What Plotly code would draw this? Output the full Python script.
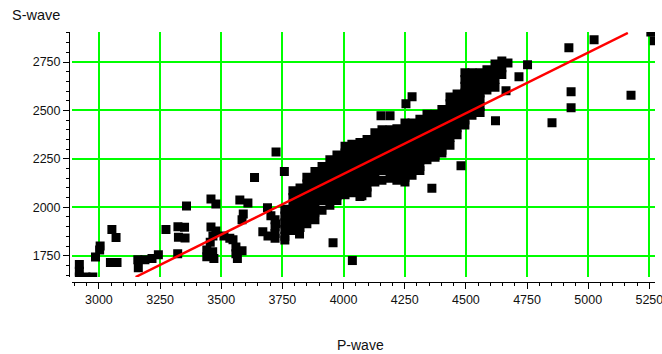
import plotly.graph_objects as go

# --- scattered samples (P-wave, S-wave) ---
outlier_p = [2920, 2920, 2920, 2947, 2975, 3005, 3003, 2986, 3053, 3070, 3047, 3074,
             3159, 3188, 3217, 3243, 3161, 3274, 3358, 3323, 3350, 3325, 3352, 3322,
             3441, 3441, 3465, 3470, 3455, 3458, 3466, 3478, 3458, 3478, 3576, 3609,
             3689, 3590, 3585, 3511, 3535, 3548, 3560, 3585, 3560, 3566, 3670, 3691,
             3703, 3724, 3820, 3760, 3636, 3724, 3758, 3957, 4036, 4075, 4361, 4480,
             4255, 4280, 4153, 4190, 4621, 4664, 4717, 4752, 4852, 4930, 4930, 4921,
             5024, 5175, 5256, 5270]
outlier_s = [1705, 1670, 1640, 1640, 1640, 1800, 1780, 1743, 1885, 1844, 1715, 1715,
             1729, 1729, 1735, 1755, 1688, 1885, 2007, 1900, 1897, 1845, 1842, 1760,
             1780, 1745, 1770, 1735, 1820, 1898, 1852, 1878, 2043, 2017, 2038, 2022,
             1997, 1965, 1935, 1852, 1840, 1832, 1795, 1775, 1760, 1735, 1873, 1852,
             1956, 1914, 1862, 1831, 2154, 2286, 2185, 1817, 1725, 2059, 2098, 2214,
             2534, 2571, 2472, 2472, 2447, 2602, 2674, 2736, 2436, 2596, 2514, 2824,
             2865, 2578, 2905, 2860]

# --- dense main cloud (P-wave, S-wave) ---
band_p = [3720]*4 + [3760]*5 + [3793]*7 + [3822]*7 + [3850]*8 + [3883]*8 + [3912]*7 + \
         [3944]*8 + [3973]*8 + [4006]*8 + [4034]*8 + [4067]*9 + [4096]*9 + [4128]*8 + \
         [4157]*8 + [4190]*8 + [4218]*9 + [4251]*10 + [4280]*9 + [4312]*9 + [4341]*8 + \
         [4374]*8 + [4402]*8 + [4435]*8 + [4464]*7 + [4496]*9 + [4525]*7 + [4558]*7 + \
         [4586]*4 + [4619]*4 + [4647]*3 + [4672]*1
band_s = [1935, 1900, 1865, 1840,
          1990, 1955, 1920, 1885, 1850,
          2085, 2050, 2015, 1980, 1945, 1910, 1880,
          2100, 2065, 2030, 1995, 1960, 1925, 1895,
          2155, 2120, 2085, 2050, 2015, 1980, 1945, 1915,
          2185, 2150, 2115, 2080, 2045, 2010, 1975, 1935,
          2210, 2175, 2140, 2105, 2070, 2035, 1985,
          2245, 2210, 2175, 2140, 2105, 2070, 2040, 2010,
          2270, 2235, 2200, 2165, 2130, 2095, 2060, 2035,
          2315, 2280, 2245, 2210, 2175, 2140, 2105, 2065,
          2325, 2290, 2255, 2220, 2185, 2150, 2115, 2075,
          2335, 2300, 2265, 2230, 2195, 2160, 2125, 2090, 2055,
          2350, 2315, 2280, 2245, 2210, 2175, 2140, 2105, 2075,
          2385, 2350, 2315, 2280, 2245, 2210, 2175, 2130,
          2400, 2365, 2330, 2295, 2260, 2225, 2190, 2140,
          2400, 2365, 2330, 2295, 2260, 2225, 2190, 2150,
          2405, 2370, 2335, 2300, 2265, 2230, 2195, 2160, 2140,
          2435, 2400, 2365, 2330, 2295, 2260, 2225, 2190, 2155, 2130,
          2435, 2400, 2365, 2330, 2295, 2260, 2225, 2190, 2165,
          2455, 2420, 2385, 2350, 2315, 2280, 2245, 2210, 2190,
          2480, 2445, 2410, 2375, 2340, 2305, 2270, 2245,
          2480, 2445, 2410, 2375, 2340, 2305, 2270, 2258,
          2505, 2470, 2435, 2400, 2365, 2330, 2295, 2280,
          2570, 2535, 2500, 2465, 2430, 2395, 2360, 2320,
          2585, 2550, 2515, 2480, 2445, 2410, 2375,
          2695, 2660, 2625, 2590, 2555, 2520, 2485, 2450, 2425,
          2695, 2660, 2625, 2590, 2555, 2520, 2475,
          2695, 2660, 2625, 2590, 2555, 2520, 2490,
          2710, 2675, 2640, 2605,
          2740, 2700, 2660, 2620,
          2755, 2720, 2685,
          2745]

# --- regression line end points ---
fit_p = [3150, 5162]
fit_s = [1640, 2900]

x_ticks = [3000, 3250, 3500, 3750, 4000, 4250, 4500, 4750, 5000, 5250]
y_ticks = [1750, 2000, 2250, 2500, 2750]

FONT = "Arial, Liberation Sans, sans-serif"

fig = go.Figure()
fig.add_trace(go.Scatter(
    x=band_p + outlier_p, y=band_s + outlier_s, mode="markers",
    marker=dict(symbol="square", size=9, color="black", line=dict(width=0)),
    showlegend=False, hoverinfo="skip"))
fig.add_trace(go.Scatter(
    x=fit_p, y=fit_s, mode="lines",
    line=dict(color="#ff0000", width=2.5),
    showlegend=False, hoverinfo="skip"))

axis_common = dict(
    showgrid=True, gridcolor="#00ff00", gridwidth=1.5,
    zeroline=False, showline=True, linecolor="black", linewidth=1,
    ticks="outside", ticklen=6, tickcolor="black", tickwidth=1,
    tickfont=dict(family=FONT, size=12.5, color="#111"),
    ticklabeloverflow="allow",
    anchor="free", position=0, automargin=False,
)

fig.update_layout(
    width=662, height=354,
    margin=dict(l=69, r=7, t=32, b=72, autoexpand=False),
    paper_bgcolor="white", plot_bgcolor="white",
    xaxis=dict(range=[2888, 5273], domain=[0.0043, 1], tickmode="array",
               tickvals=x_ticks, ticktext=[str(v) for v in x_ticks],
               minor=dict(dtick=50, tick0=2900, ticks="outside", ticklen=3,
                          tickcolor="black", showgrid=False),
               **axis_common),
    yaxis=dict(range=[1640, 2905], domain=[0.02, 1], tickmode="array",
               tickvals=y_ticks, ticktext=[str(v) for v in y_ticks],
               minor=dict(dtick=50, tick0=1650, ticks="outside", ticklen=3,
                          tickcolor="black", showgrid=False),
               **axis_common),
    annotations=[
        dict(text="S-wave", xref="paper", yref="paper", x=-0.1, y=1.0,
             xanchor="left", yanchor="middle", yshift=17, showarrow=False,
             font=dict(family=FONT, size=14.5, color="#111")),
        dict(text="P-wave", x=0.497, xref="paper", y=0, yref="paper",
             xanchor="center", yanchor="middle", yshift=-63, showarrow=False,
             font=dict(family=FONT, size=14, color="#111")),
    ],
)

fig.write_html("out.html", config={"displayModeBar": False},
               post_script="document.body.style.margin='0';document.body.style.overflow='hidden';")
